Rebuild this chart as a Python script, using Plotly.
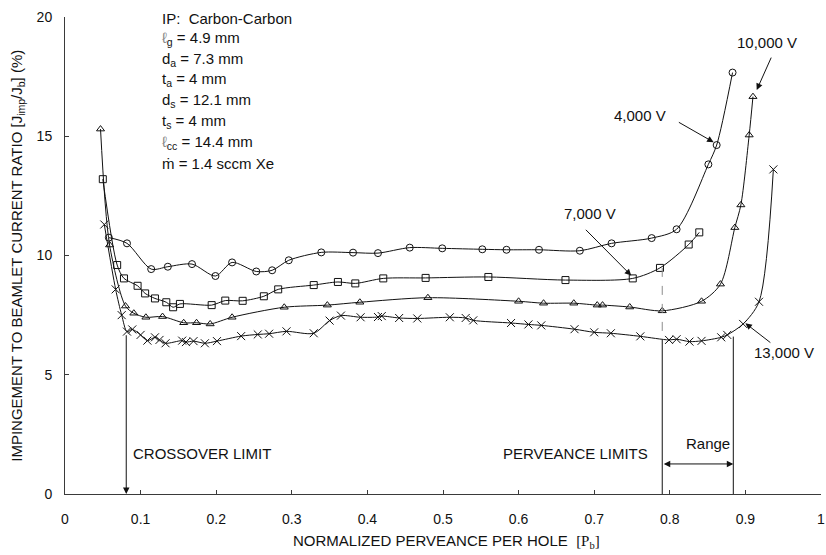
import plotly.graph_objects as go

# Normalized perveance per hole [Pb] and impingement ratio (%) for each grid voltage
pb_4000 = [0.058, 0.082, 0.114, 0.136, 0.168, 0.199, 0.221, 0.253, 0.274, 0.296,
           0.339, 0.381, 0.414, 0.456, 0.499, 0.552, 0.584, 0.627, 0.681, 0.723,
           0.776, 0.809, 0.851, 0.862, 0.883]
imp_4000 = [10.75, 10.51, 9.43, 9.53, 9.64, 9.14, 9.71, 9.33, 9.38, 9.80,
            10.13, 10.12, 10.10, 10.33, 10.30, 10.26, 10.24, 10.24, 10.20, 10.51,
            10.73, 11.10, 13.82, 14.63, 17.67]

pb_7000 = [0.050, 0.069, 0.078, 0.096, 0.106, 0.119, 0.134, 0.143, 0.152, 0.194,
           0.212, 0.235, 0.263, 0.282, 0.329, 0.361, 0.384, 0.421, 0.477, 0.560,
           0.662, 0.751, 0.787, 0.825, 0.839]
imp_7000 = [13.2, 9.60, 9.04, 8.73, 8.41, 8.20, 8.04, 7.83, 7.97, 7.92,
            8.11, 8.10, 8.29, 8.58, 8.76, 8.89, 8.83, 9.04, 9.06, 9.10,
            8.97, 9.04, 9.48, 10.46, 10.97]

pb_10000 = [0.047, 0.059, 0.080, 0.091, 0.107, 0.129, 0.157, 0.174, 0.192, 0.221,
            0.290, 0.347, 0.390, 0.480, 0.600, 0.633, 0.673, 0.704, 0.711, 0.747,
            0.790, 0.842, 0.867, 0.886, 0.894, 0.905, 0.910]
imp_10000 = [15.3, 10.44, 7.88, 7.58, 7.41, 7.44, 7.18, 7.18, 7.13, 7.41,
             7.83, 7.92, 8.04, 8.23, 8.08, 8.00, 8.00, 7.92, 7.92, 7.84,
             7.68, 8.08, 8.80, 11.17, 12.12, 15.05, 16.66]

pb_13000 = [0.052, 0.067, 0.075, 0.082, 0.089, 0.100, 0.109, 0.119, 0.125, 0.133,
            0.155, 0.160, 0.170, 0.185, 0.201, 0.233, 0.255, 0.270, 0.293, 0.329,
            0.350, 0.365, 0.391, 0.414, 0.419, 0.442, 0.466, 0.509, 0.530, 0.540,
            0.590, 0.613, 0.630, 0.674, 0.700, 0.722, 0.761, 0.799, 0.809, 0.826,
            0.842, 0.868, 0.876, 0.897, 0.918, 0.937]
imp_13000 = [11.3, 8.58, 7.50, 6.81, 6.90, 6.67, 6.43, 6.57, 6.46, 6.32,
             6.43, 6.37, 6.41, 6.32, 6.41, 6.62, 6.69, 6.72, 6.82, 6.74,
             7.27, 7.48, 7.41, 7.42, 7.46, 7.38, 7.36, 7.41, 7.38, 7.28,
             7.17, 7.11, 7.07, 6.91, 6.78, 6.74, 6.61, 6.46, 6.49, 6.39,
             6.42, 6.57, 6.67, 7.13, 8.06, 13.61]

x_ticks = [0, 0.1, 0.2, 0.3, 0.4, 0.5, 0.6, 0.7, 0.8, 0.9, 1]
x_tick_text = ["0", "0.1", "0.2", "0.3", "0.4", "0.5", "0.6", "0.7", "0.8", "0.9", "1"]
y_ticks = [0, 5, 10, 15, 20]

crossover_limit = 0.081
perveance_limits = [0.79, 0.884]

grid_params = [
    "IP:\u00a0 Carbon-Carbon",
    "<span style='color:#8a8a8a'>\u2113</span><sub>g</sub> = 4.9 mm",
    "d<sub>a</sub> = 7.3 mm",
    "t<sub>a</sub> = 4 mm",
    "d<sub>s</sub> = 12.1 mm",
    "t<sub>s</sub> = 4 mm",
    "<span style='color:#8a8a8a'>\u2113</span><sub>cc</sub> = 14.4 mm",
    "\u1e41 = 1.4 sccm Xe",
]

FONT = "Liberation Sans, Arial, sans-serif"
INK = "#111111"

fig = go.Figure()

series = [
    (pb_4000, imp_4000, "circle-open", 7),
    (pb_7000, imp_7000, "square-open", 7),
    (pb_10000, imp_10000, "triangle-up-open", 7),
    (pb_13000, imp_13000, "x-thin-open", 8),
]
for xs, ys, sym, size in series:
    fig.add_trace(go.Scatter(
        x=xs, y=ys, mode="lines+markers", showlegend=False, cliponaxis=False,
        line=dict(color=INK, width=1, shape="spline", smoothing=0.8),
        marker=dict(symbol=sym, size=size, color=INK, line=dict(color=INK, width=1)),
    ))

# Perveance limit markers: dashed between the 7,000 V and 13,000 V curves, solid below
p_lo, p_hi = perveance_limits
fig.add_shape(type="line", xref="x", yref="y", x0=p_lo, x1=p_lo, y0=imp_7000[22], y1=6.46,
              line=dict(color="#8c8c8c", width=1, dash="dash"))
fig.add_shape(type="line", xref="x", yref="y", x0=p_lo, x1=p_lo, y0=6.46, y1=0,
              line=dict(color=INK, width=1))
fig.add_shape(type="line", xref="x", yref="y", x0=p_hi, x1=p_hi, y0=6.6, y1=0,
              line=dict(color=INK, width=1))

arrow_style = dict(showarrow=True, arrowhead=2, arrowsize=1.3, arrowwidth=1,
                   arrowcolor=INK, axref="x", ayref="y", xref="x", yref="y", text="")

# Crossover limit arrow down to the axis
fig.add_annotation(x=crossover_limit, y=0, ax=crossover_limit, ay=6.72, **arrow_style)
# Range double arrow
fig.add_annotation(x=p_hi, y=1.26, ax=p_lo, ay=1.26, arrowside="end+start", **arrow_style)
# Voltage label arrows
fig.add_annotation(x=0.858, y=14.75, ax=0.81, ay=15.62, **arrow_style)
fig.add_annotation(x=0.749, y=9.16, ax=0.687, ay=11.14, **arrow_style)
fig.add_annotation(x=0.915, y=16.94, ax=0.935, ay=18.36, **arrow_style)
fig.add_annotation(x=0.900, y=7.16, ax=0.935, ay=6.3, **arrow_style)

text_font = dict(family=FONT, size=15, color=INK)
labels = [
    ("4,000 V", 0.761, 15.85),
    ("7,000 V", 0.694, 11.77),
    ("10,000 V", 0.9286, 18.92),
    ("13,000 V", 0.9505, 5.94),
    ("Range", 0.851, 2.1),
]
for txt, lx, ly in labels:
    fig.add_annotation(x=lx, y=ly, text=txt, showarrow=False, font=text_font,
                       xanchor="center", yanchor="middle")

fig.add_annotation(x=0.087, y=1.68, text="CROSSOVER LIMIT", showarrow=False,
                   font=text_font, xanchor="left", yanchor="middle")
fig.add_annotation(x=0.774, y=1.68, text="PERVEANCE LIMITS", showarrow=False,
                   font=text_font, xanchor="right", yanchor="middle")

param_y = [19.95, 19.11, 18.23, 17.36, 16.49, 15.61, 14.74, 13.87]
for txt, py in zip(grid_params, param_y):
    fig.add_annotation(x=0.125, y=py, text=txt, showarrow=False, font=text_font,
                       xanchor="left", yanchor="middle")

# Axis titles
fig.add_annotation(xref="paper", yref="paper", x=0.504, y=-0.1,
                   text="NORMALIZED PERVEANCE PER HOLE\u00a0 <span style='font-family:Liberation Serif, Times New Roman, serif'>[P<sub>b</sub>]</span>",
                   showarrow=False, font=text_font, xanchor="center", yanchor="middle")
fig.add_annotation(xref="paper", yref="paper", x=-0.0632, y=0.5, textangle=-90,
                   text="IMPINGEMENT TO BEAMLET CURRENT RATIO [J<sub>imp</sub>/J<sub>b</sub>] (%)",
                   showarrow=False, font=text_font, xanchor="center", yanchor="middle")

axis_common = dict(showgrid=False, zeroline=False, showline=True, linecolor="#3a3a3a",
                   linewidth=1, ticks="inside", ticklen=4, tickcolor="#3a3a3a",
                   automargin=False, tickfont=dict(family=FONT, size=14, color=INK))
fig.update_xaxes(range=[0, 1], tickvals=x_ticks, ticktext=x_tick_text,
                 ticklabelstandoff=12, ticklabeloverflow="allow", **axis_common)
fig.update_yaxes(range=[0, 20], tickvals=y_ticks, ticklabelstandoff=9, **axis_common)

fig.update_layout(
    width=826, height=555,
    margin=dict(l=65, r=5, t=17, b=61, autoexpand=False),
    paper_bgcolor="white", plot_bgcolor="white",
    font=dict(family=FONT, size=15, color=INK),
)

fig.write_html("out.html")
